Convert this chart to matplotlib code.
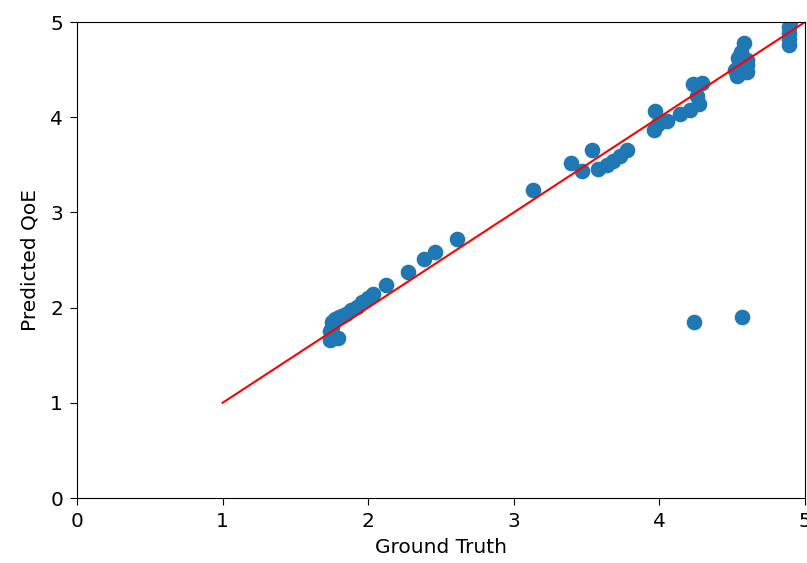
import numpy as np
import matplotlib
matplotlib.use("Agg")
import matplotlib.pyplot as plt

# ground truth vs predicted QoE
ground_truth = [
    1.74, 1.74, 1.75, 1.75, 1.75, 1.77, 1.79, 1.80, 1.82, 1.85, 1.88, 1.92, 1.96,
    2.00, 2.03, 2.12, 2.27, 2.38, 2.46, 2.61,
    3.13, 3.39, 3.47, 3.54, 3.58, 3.64, 3.68, 3.73, 3.78,
    3.96, 3.97, 3.99, 4.05, 4.14, 4.21, 4.23, 4.26, 4.27, 4.29,
    4.52, 4.53, 4.54, 4.55, 4.55, 4.56, 4.58, 4.60, 4.60, 4.60,
    4.89, 4.89, 4.89, 4.89, 4.90,
    4.24, 4.57,
]
predicted = [
    1.66, 1.75, 1.80, 1.85, 1.70, 1.88, 1.68, 1.90, 1.91, 1.93, 1.97, 2.01, 2.06,
    2.10, 2.14, 2.24, 2.37, 2.51, 2.58, 2.72,
    3.24, 3.52, 3.43, 3.66, 3.46, 3.50, 3.54, 3.59, 3.66,
    3.87, 4.06, 3.93, 3.96, 4.03, 4.08, 4.35, 4.22, 4.14, 4.36,
    4.50, 4.43, 4.62, 4.55, 4.45, 4.68, 4.78, 4.48, 4.60, 4.55,
    4.76, 4.82, 4.88, 4.95, 5.00,
    1.85, 1.90,
]
ideal = [1, 5]

fig = plt.figure(figsize=(8.07, 5.63), dpi=100)
ax = fig.add_axes([77/807, 65/563, 728/807, 476/563])

ax.scatter(ground_truth, predicted, s=105, color="#1f77b4")
ax.plot(ideal, ideal, color="red")

ax.set_xlim(0, 5)
ax.set_ylim(0, 5)
ax.set_xlabel("Ground Truth", fontsize=14.5, labelpad=5)
ax.set_ylabel("Predicted QoE", fontsize=14.5, labelpad=8)
ax.tick_params(labelsize=14.5, length=5, pad=5)

fig.savefig("out.png", dpi=100)
